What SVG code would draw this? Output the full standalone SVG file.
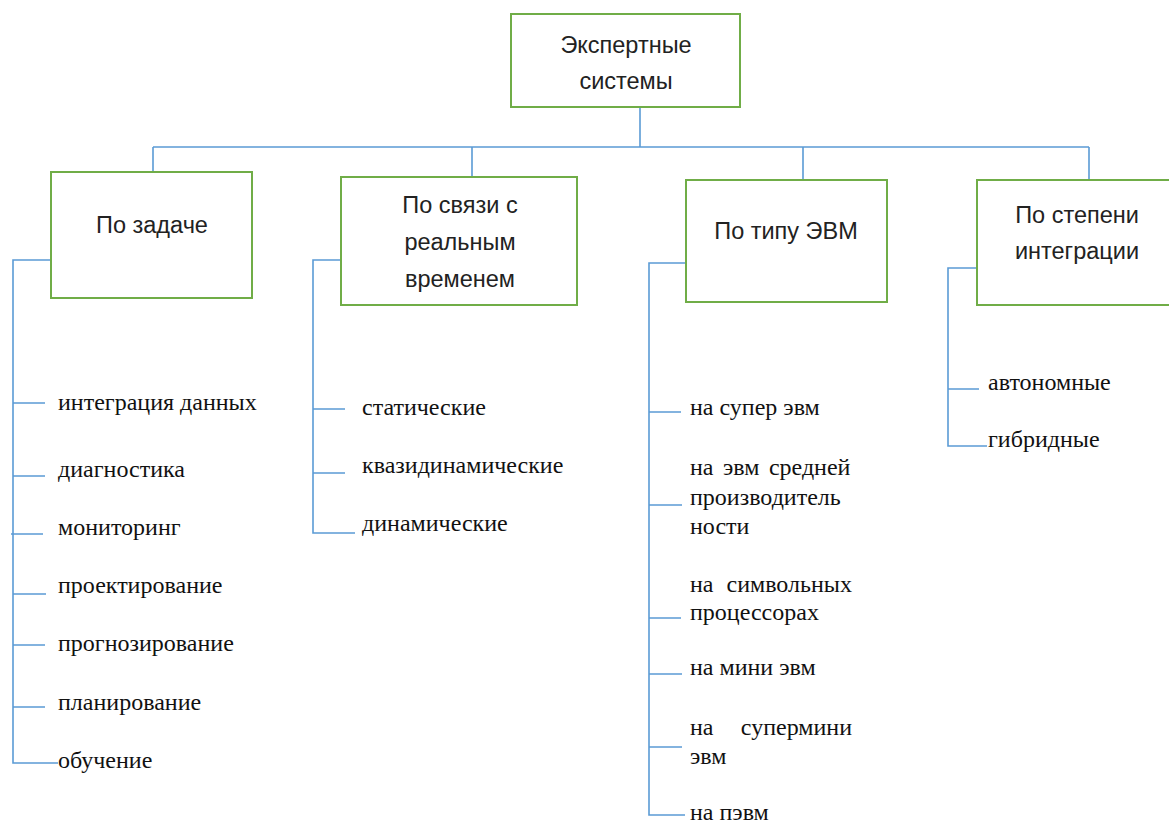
<svg xmlns="http://www.w3.org/2000/svg" width="1169" height="823" viewBox="0 0 1169 823">
  <style>
    .box { fill: #ffffff; stroke: #70ad47; stroke-width: 2; }
    .hdr { font-family: "Liberation Sans", Arial, sans-serif; font-size: 23.5px; fill: #222222; text-anchor: middle; }
    .item { font-family: "Liberation Serif", "Times New Roman", serif; font-size: 24px; fill: #111111; }
    .end { text-anchor: end; }
    .wire { fill: none; stroke: #5b9bd5; stroke-width: 1.6; }
  </style>
  <rect width="1169" height="823" fill="#ffffff"/>

  <g id="connectors">
    <!-- root to bus, bus to categories -->
    <path class="wire" d="M640 107 V147 M153 147 H1089 M153 147 V172 M472 147 V177 M803 147 V180 M1089 147 V180"/>
    <!-- По задаче list -->
    <path class="wire" d="M51 260 H13 V763 H58 M13 403 H45 M13 476 H45 M11 534 H43 M13 594 H46 M13 645 H45 M13 707 H45"/>
    <!-- По связи с реальным временем list -->
    <path class="wire" d="M341 260 H313 V533 H355 M313 409 H345 M313 473 H345"/>
    <!-- По типу ЭВМ list -->
    <path class="wire" d="M686 263 H649 V815 H685 M649 412 H681 M649 505 H682 M649 618 H681 M649 674 H682 M649 747 H682"/>
    <!-- По степени интеграции list -->
    <path class="wire" d="M977 268 H948 V446 H987 M948 389 H979"/>
  </g>

  <g id="root">
    <rect class="box" x="511" y="14" width="229" height="93"/>
    <text class="hdr" x="626" y="53">Экспертные</text>
    <text class="hdr" x="626" y="89">системы</text>
  </g>

  <g id="by-task">
    <rect class="box" x="51" y="172" width="201" height="126"/>
    <text class="hdr" x="152" y="233">По задаче</text>
  </g>

  <g id="by-realtime">
    <rect class="box" x="341" y="177" width="236" height="128"/>
    <text class="hdr" x="460" y="213">По связи с</text>
    <text class="hdr" x="460" y="250">реальным</text>
    <text class="hdr" x="460" y="287">временем</text>
  </g>

  <g id="by-computer">
    <rect class="box" x="686" y="180" width="201" height="122"/>
    <text class="hdr" x="786" y="239">По типу ЭВМ</text>
  </g>

  <g id="by-integration">
    <rect class="box" x="977" y="180" width="200" height="125"/>
    <text class="hdr" x="1077" y="223">По степени</text>
    <text class="hdr" x="1077" y="259">интеграции</text>
  </g>

  <g id="task-items">
    <text class="item" x="58" y="410">интеграция данных</text>
    <text class="item" x="58" y="477">диагностика</text>
    <text class="item" x="58" y="535">мониторинг</text>
    <text class="item" x="58" y="593">проектирование</text>
    <text class="item" x="58" y="651">прогнозирование</text>
    <text class="item" x="58" y="710">планирование</text>
    <text class="item" x="58" y="768">обучение</text>
  </g>

  <g id="realtime-items">
    <text class="item" x="362" y="415">статические</text>
    <text class="item" x="362" y="473">квазидинамические</text>
    <text class="item" x="362" y="531">динамические</text>
  </g>

  <g id="computer-items">
    <text class="item" x="690" y="415">на супер эвм</text>
    <text class="item" x="690" y="475" word-spacing="3.5">на эвм средней</text>
    <text class="item" x="690" y="505">производитель</text>
    <text class="item" x="690" y="534">ности</text>
    <text class="item" x="690" y="592" word-spacing="7">на символьных</text>
    <text class="item" x="690" y="620">процессорах</text>
    <text class="item" x="690" y="675">на мини эвм</text>
    <!-- justified line: first word at left, second flush right -->
    <text class="item" x="690" y="735">на <tspan x="852" class="end">супермини</tspan></text>
    <text class="item" x="690" y="764">эвм</text>
    <text class="item" x="690" y="820">на пэвм</text>
  </g>

  <g id="integration-items">
    <text class="item" x="988" y="390">автономные</text>
    <text class="item" x="988" y="447">гибридные</text>
  </g>
</svg>
